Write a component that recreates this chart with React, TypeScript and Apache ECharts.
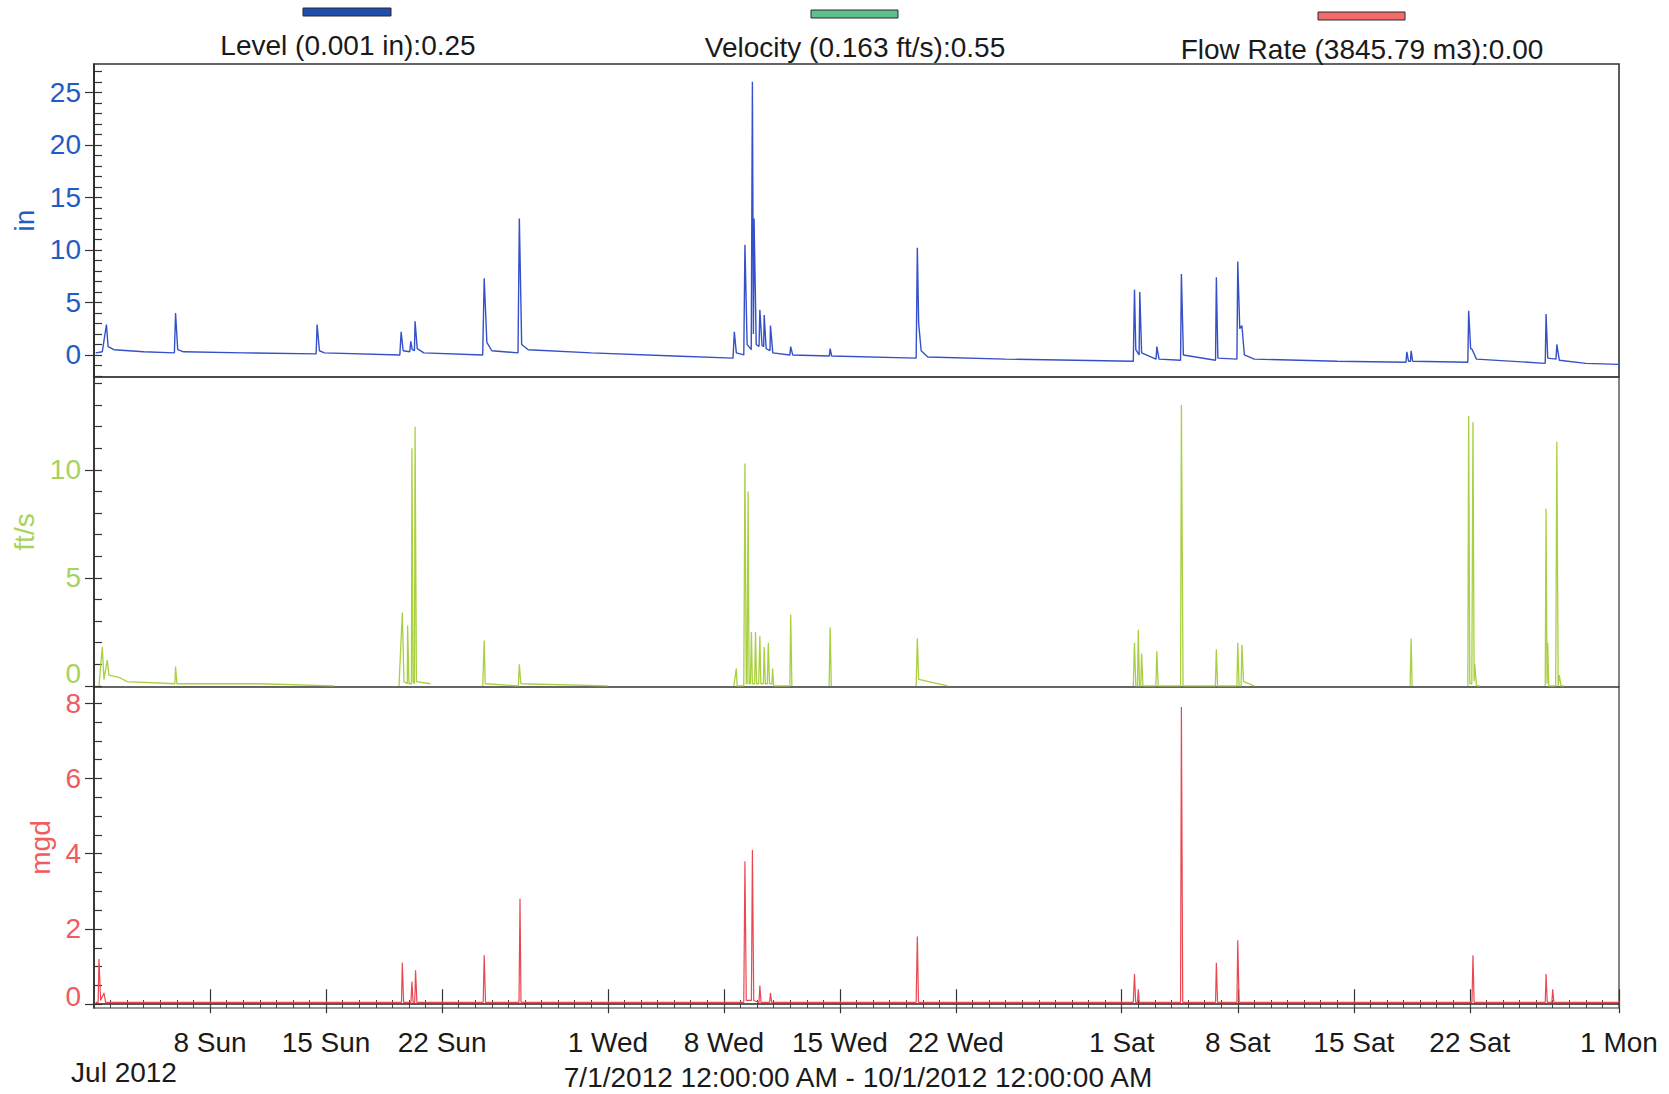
import React, { useEffect, useRef } from "react";
import * as echarts from "echarts";

// Time axis: days since 7/1/2012 12:00:00 AM (0) to 10/1/2012 (92)
const X_MIN = 0;
const X_MAX = 92;
const xMajorDays = [7, 14, 21, 31, 38, 45, 52, 62, 69, 76, 83, 92];
const xMajorLabels = ["8 Sun", "15 Sun", "22 Sun", "1 Wed", "8 Wed", "15 Wed", "22 Wed", "1 Sat", "8 Sat", "15 Sat", "22 Sat", "1 Mon"];
const xDailyTicks = Array.from({ length: 93 }, (_, i) => i);

const levelTicks = [0, 5, 10, 15, 20, 25];
const velocityTicks = [0, 5, 10];
const flowTicks = [0, 2, 4, 6, 8];
const levelMinor = Array.from({ length: 30 }, (_, i) => i - 2);
const velocityMinor = Array.from({ length: 15 }, (_, i) => i);
const flowMinor = Array.from({ length: 17 }, (_, i) => i * 0.5);

const legendLabels = ["Level (0.001 in):0.25", "Velocity (0.163 ft/s):0.55", "Flow Rate (3845.79 m3):0.00"];
const dateRangeText = "7/1/2012 12:00:00 AM - 10/1/2012 12:00:00 AM";
const monthText = "Jul 2012";

// Level (in): [day, value]
const levelPoints: [number, number][] = [
  [0.1, 0.2], [0.5, 0.3], [0.75, 2.9], [0.85, 0.8], [1.2, 0.5], [3, 0.3], [4.85, 0.2], [4.92, 4.0], [5.05, 0.5],
  [5.4, 0.3], [9, 0.2], [13.4, 0.1], [13.46, 2.9], [13.6, 0.4], [13.9, 0.2], [18.45, 0.0], [18.53, 2.2],
  [18.65, 0.4], [19.05, 0.3], [19.11, 1.3], [19.2, 0.5], [19.33, 0.4], [19.37, 3.2], [19.5, 0.6], [19.9, 0.2],
  [23.45, 0.0], [23.54, 7.3], [23.7, 1.2], [24.0, 0.4], [25.58, 0.2], [25.66, 13.0], [25.8, 1.0], [26.2, 0.5],
  [30, 0.2], [35, -0.1], [38.55, -0.3], [38.63, 2.2], [38.75, 0.2], [39.2, 0.0], [39.27, 10.5], [39.4, 1.0],
  [39.65, 0.5], [39.72, 26.0], [39.78, 2.0], [39.82, 13.0], [39.95, 1.0], [40.12, 0.8], [40.17, 4.3], [40.3, 0.9],
  [40.4, 0.8], [40.43, 3.8], [40.55, 0.6], [40.78, 0.4], [40.81, 2.8], [40.95, 0.2], [41.98, 0.0], [42.03, 0.8],
  [42.15, 0.0], [44.36, -0.1], [44.41, 0.6], [44.5, -0.1], [49.6, -0.3], [49.67, 10.2], [49.75, 3.0], [49.9, 0.4],
  [50.3, -0.2], [55, -0.4], [62.7, -0.6], [62.77, 6.2], [62.85, 0.5], [63.05, 0.0], [63.09, 6.0], [63.2, 0.2],
  [64.07, -0.4], [64.12, 0.8], [64.25, -0.4], [65.55, -0.5], [65.6, 7.7], [65.72, 0.0], [67.66, -0.5], [67.71, 7.4],
  [67.8, -0.3], [68.95, -0.4], [69.0, 8.9], [69.12, 2.5], [69.25, 2.8], [69.4, 0.0], [70.0, -0.4], [75, -0.6],
  [79.15, -0.7], [79.2, 0.3], [79.3, -0.6], [79.42, -0.6], [79.46, 0.4], [79.55, -0.6], [82.88, -0.7], [82.93, 4.2],
  [83.05, 0.6], [83.15, 0.5], [83.4, -0.4], [87.55, -0.8], [87.6, 3.9], [87.7, -0.3], [88.2, -0.4], [88.25, 1.0],
  [88.4, -0.5], [90, -0.8], [92, -0.9],
];

// Velocity (ft/s): [day, value], null = no data
const velocityPoints: [number, number | null][] = [
  [0.3, 0.0], [0.5, 1.8], [0.6, 0.3], [0.8, 1.2], [0.9, 0.5], [1.5, 0.4], [2, 0.2], [4.88, 0.1], [4.92, 0.9],
  [5.0, 0.1], [10, 0.1], [14.5, 0.0], [15, null],
  [18.4, 0.0], [18.6, 3.4], [18.7, 0.2], [18.9, 0.1], [18.92, 2.8], [19.0, 0.1], [19.15, 0.1], [19.18, 11.0],
  [19.25, 0.2], [19.33, 0.1], [19.37, 12.0], [19.45, 0.2], [20.3, 0.1], [20.5, null],
  [23.45, 0.0], [23.54, 2.1], [23.6, 0.1], [25.6, 0.0], [25.66, 1.0], [25.75, 0.1], [31, 0.0], [31.2, null],
  [38.6, 0.0], [38.75, 0.8], [38.8, 0.0], [39.2, 0.0], [39.27, 10.3], [39.35, 0.1], [39.4, 0.1], [39.46, 9.0],
  [39.52, 0.1], [39.6, 0.1], [39.66, 2.5], [39.72, 0.1], [39.85, 0.1], [39.91, 2.5], [39.97, 0.1], [40.1, 0.1],
  [40.17, 2.3], [40.23, 0.1], [40.38, 0.1], [40.43, 1.8], [40.5, 0.1], [40.62, 0.1], [40.68, 2.0], [40.75, 0.1],
  [40.9, 0.1], [40.94, 0.8], [41.0, 0.0], [41.98, 0.0], [42.03, 3.3], [42.1, 0.0], [42.3, null],
  [44.35, 0.0], [44.41, 2.7], [44.48, 0.0], [44.6, null],
  [49.6, 0.0], [49.67, 2.2], [49.75, 0.3], [51.5, 0.0], [51.7, null],
  [62.7, 0.0], [62.77, 2.0], [62.85, 0.0], [62.95, 0.0], [63.0, 2.6], [63.07, 0.0], [63.15, 0.0], [63.2, 1.5],
  [63.28, 0.0], [64.06, 0.0], [64.12, 1.6], [64.2, 0.0], [65.55, 0.0], [65.6, 13.0], [65.7, 0.0], [67.65, 0.0],
  [67.71, 1.7], [67.78, 0.0], [68.95, 0.0], [69.0, 2.0], [69.08, 0.0], [69.2, 0.0], [69.25, 1.9], [69.35, 0.2],
  [70.0, 0.0], [70.2, null],
  [79.4, 0.0], [79.46, 2.2], [79.52, 0.0], [79.7, null],
  [82.88, 0.0], [82.93, 12.5], [83.0, 0.1], [83.12, 0.1], [83.19, 12.2], [83.26, 0.2], [83.3, 1.0], [83.4, 0.0],
  [83.6, 0.0], [83.8, null],
  [87.55, 0.0], [87.6, 8.2], [87.66, 0.1], [87.7, 2.0], [87.76, 0.0], [88.18, 0.0], [88.25, 11.3], [88.33, 0.0],
  [88.4, 0.5], [88.5, 0.0], [88.7, 0.0],
];

// Flow Rate (mgd): [day, value]
const flowPoints: [number, number][] = [
  [0.1, 0.05], [0.25, 0.05], [0.3, 1.2], [0.4, 0.1], [0.6, 0.3], [0.7, 0.05], [18.55, 0.05], [18.6, 1.1],
  [18.68, 0.05], [19.12, 0.05], [19.18, 0.6], [19.25, 0.05], [19.35, 0.05], [19.4, 0.9], [19.48, 0.05],
  [23.48, 0.05], [23.54, 1.3], [23.62, 0.05], [25.64, 0.05], [25.7, 2.8], [25.76, 0.05], [39.2, 0.05],
  [39.27, 3.8], [39.35, 0.1], [39.66, 0.1], [39.72, 4.1], [39.8, 0.1], [40.12, 0.05], [40.17, 0.5], [40.24, 0.05],
  [40.76, 0.05], [40.81, 0.3], [40.88, 0.05], [49.6, 0.05], [49.67, 1.8], [49.74, 0.05], [62.7, 0.05],
  [62.77, 0.8], [62.84, 0.05], [62.95, 0.05], [63.0, 0.4], [63.06, 0.05], [65.55, 0.05], [65.6, 7.9],
  [65.68, 0.05], [67.66, 0.05], [67.71, 1.1], [67.78, 0.05], [68.95, 0.05], [69.0, 1.7], [69.08, 0.05],
  [83.13, 0.05], [83.19, 1.3], [83.26, 0.05], [87.55, 0.05], [87.6, 0.8], [87.67, 0.05], [87.95, 0.05],
  [88.0, 0.4], [88.07, 0.05], [92, 0.05],
];

const FONT = "Liberation Sans, Arial, sans-serif";
const FS = 28;
const LEVEL_COLOR = "#3550c8";
const LEVEL_LABEL = "#1f5cc4";
const VEL_COLOR = "#a8d040";
const VEL_LABEL = "#a6d35c";
const FLOW_COLOR = "#ec4650";
const FLOW_LABEL = "#ef5b5e";

const GRID_LEFT = 94;
const GRID_RIGHT = 50;

function yAxesFor(
  gridIndex: number,
  min: number,
  max: number,
  major: number[],
  minor: number[],
  color: string,
  name: string,
  nameGap: number,
  zeroLift: number
) {
  const base = {
    type: "value",
    gridIndex,
    min,
    max,
    position: "left",
    offset: 0,
    splitLine: { show: false },
  };
  return [
    {
      ...base,
      name,
      nameLocation: "middle",
      nameRotate: 90,
      nameGap,
      nameTextStyle: { color, fontSize: FS, fontFamily: FONT },
      axisLine: { show: true, lineStyle: { color: "#222", width: 1.5 } },
      axisTick: { show: true, customValues: major, inside: false, length: 9, lineStyle: { color: "#333", width: 1.2 } },
      axisLabel: {
        show: true,
        customValues: major,
        margin: 13,
        color,
        fontSize: FS,
        fontFamily: FONT,
        formatter: (v: number) => (zeroLift > 0 && v === 0 ? "{z|0}" : String(v)),
        rich: { z: { color, fontSize: FS, fontFamily: FONT, padding: [0, 0, zeroLift, 0] } },
      },
    },
    {
      ...base,
      axisLine: { show: false },
      axisTick: { show: true, customValues: minor, inside: true, length: 8, lineStyle: { color: "#333", width: 1.2 } },
      axisLabel: { show: false },
    },
  ];
}

export default function App() {
  const ref = useRef<HTMLDivElement>(null);

  useEffect(() => {
    if (!ref.current) return;
    const chart = echarts.init(ref.current, undefined, { renderer: "svg" });

    const gridBase = { left: GRID_LEFT, right: GRID_RIGHT, show: true, borderColor: "#333", backgroundColor: "transparent" };
    const hiddenX = (gridIndex: number) => ({
      type: "value",
      gridIndex,
      min: X_MIN,
      max: X_MAX,
      show: false,
      splitLine: { show: false },
    });

    const option: any = {
      animation: false,
      backgroundColor: "#ffffff",
      grid: [
        { ...gridBase, top: 64, height: 313, borderWidth: 1.6 },
        { ...gridBase, top: 377, height: 310, borderWidth: 1.2 },
        { ...gridBase, top: 687, height: 321, borderWidth: 1.2 },
      ],
      xAxis: [
        hiddenX(0),
        hiddenX(1),
        {
          type: "value",
          gridIndex: 2,
          min: X_MIN,
          max: X_MAX,
          position: "bottom",
          offset: 0,
          splitLine: { show: false },
          axisLine: { show: true, lineStyle: { color: "#222", width: 1.6 } },
          axisTick: { show: true, customValues: xMajorDays, inside: false, length: 9, lineStyle: { color: "#333", width: 1.2 } },
          axisLabel: {
            show: true,
            customValues: xMajorDays,
            margin: 20,
            color: "#1a1a1a",
            fontSize: FS,
            fontFamily: FONT,
            formatter: (v: number) => {
              const i = xMajorDays.indexOf(v);
              return i >= 0 ? xMajorLabels[i] : "";
            },
          },
        },
        {
          type: "value",
          gridIndex: 2,
          min: X_MIN,
          max: X_MAX,
          position: "bottom",
          offset: 0,
          splitLine: { show: false },
          axisLine: { show: false },
          axisTick: { show: true, customValues: xMajorDays, inside: true, length: 15, lineStyle: { color: "#333", width: 1.2 } },
          axisLabel: { show: false },
        },
        {
          type: "value",
          gridIndex: 2,
          min: X_MIN,
          max: X_MAX,
          position: "bottom",
          offset: 0,
          splitLine: { show: false },
          axisLine: { show: false },
          axisTick: { show: true, customValues: xDailyTicks, inside: true, length: 8, lineStyle: { color: "#444", width: 1 } },
          axisLabel: { show: false },
        },
      ],
      yAxis: [
        ...yAxesFor(0, -2.1, 27.7, levelTicks, levelMinor, LEVEL_LABEL, "in", 56, 0),
        ...yAxesFor(1, -0.05, 14.3, velocityTicks, velocityMinor, VEL_LABEL, "ft/s", 52, 24),
        ...yAxesFor(2, -0.1, 8.43, flowTicks, flowMinor, FLOW_LABEL, "mgd", 34, 16),
      ],
      series: [
        {
          name: "Level",
          type: "line",
          xAxisIndex: 0,
          yAxisIndex: 0,
          data: levelPoints,
          showSymbol: false,
          lineStyle: { color: LEVEL_COLOR, width: 1.4 },
        },
        {
          name: "Velocity",
          type: "line",
          xAxisIndex: 1,
          yAxisIndex: 2,
          data: velocityPoints,
          showSymbol: false,
          connectNulls: false,
          lineStyle: { color: VEL_COLOR, width: 1.3 },
        },
        {
          name: "Flow Rate",
          type: "line",
          xAxisIndex: 2,
          yAxisIndex: 4,
          data: flowPoints,
          showSymbol: false,
          lineStyle: { color: FLOW_COLOR, width: 1.2 },
        },
      ],
      graphic: [
        { type: "rect", shape: { x: 303, y: 8, width: 88, height: 8 }, style: { fill: "#1f4fae", stroke: "#2a2a2a", lineWidth: 1 } },
        { type: "rect", shape: { x: 811, y: 10, width: 87, height: 8 }, style: { fill: "#5cbf8e", stroke: "#2a2a2a", lineWidth: 1 } },
        { type: "rect", shape: { x: 1318, y: 12, width: 87, height: 8 }, style: { fill: "#f26a6a", stroke: "#2a2a2a", lineWidth: 1 } },
        {
          type: "text",
          x: 348,
          y: 45,
          style: { text: legendLabels[0], fill: "#1a1a1a", font: `${FS}px ${FONT}`, align: "center", verticalAlign: "middle" },
        },
        {
          type: "text",
          x: 855,
          y: 47,
          style: { text: legendLabels[1], fill: "#1a1a1a", font: `${FS}px ${FONT}`, align: "center", verticalAlign: "middle" },
        },
        {
          type: "text",
          x: 1362,
          y: 49,
          style: { text: legendLabels[2], fill: "#1a1a1a", font: `${FS}px ${FONT}`, align: "center", verticalAlign: "middle" },
        },
        {
          type: "text",
          x: 124,
          y: 1072,
          style: { text: monthText, fill: "#1a1a1a", font: `${FS}px ${FONT}`, align: "center", verticalAlign: "middle" },
        },
        {
          type: "text",
          x: 858,
          y: 1077,
          style: { text: dateRangeText, fill: "#1a1a1a", font: `${FS}px ${FONT}`, align: "center", verticalAlign: "middle" },
        },
      ],
    };

    chart.setOption(option);
    return () => chart.dispose();
  }, []);

  return (
    <div
      ref={ref}
      style={{ position: "fixed", left: 0, top: 0, width: 1669, height: 1094, background: "#fff" }}
    />
  );
}
